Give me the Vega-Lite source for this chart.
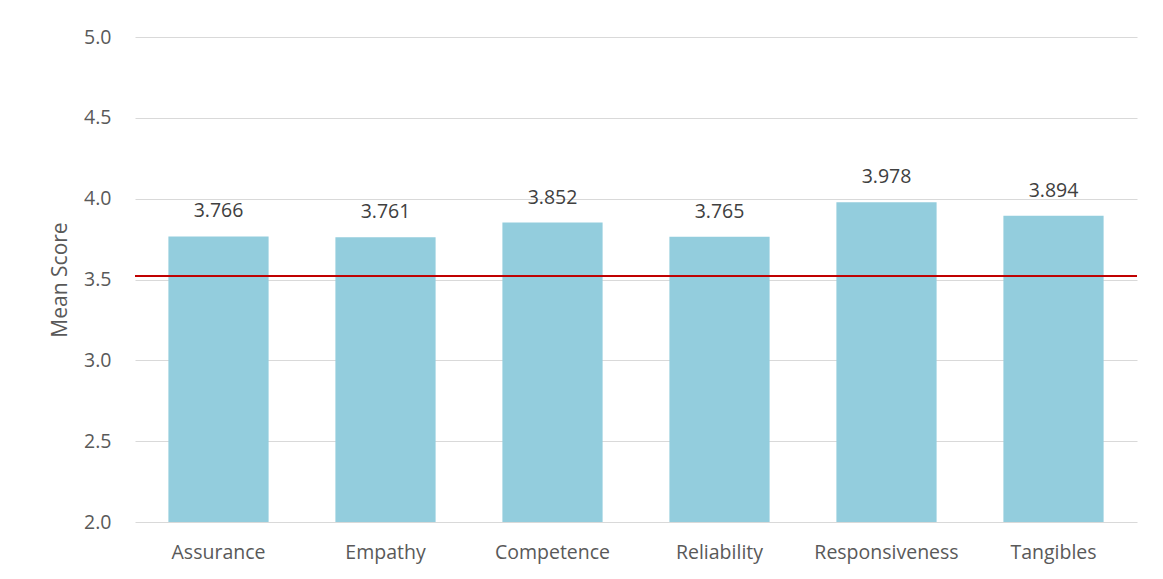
{
  "$schema": "https://vega.github.io/schema/vega-lite/v6.json",
  "width": 1002,
  "height": 485,
  "autosize": "none",
  "padding": {"left": 135, "top": 37, "right": 26, "bottom": 57},
  "background": "white",
  "config": {"view": {"stroke": null}, "font": "Open Sans"},
  "data": {
    "values": [
      {"dimension": "Assurance", "score": 3.766},
      {"dimension": "Empathy", "score": 3.761},
      {"dimension": "Competence", "score": 3.852},
      {"dimension": "Reliability", "score": 3.765},
      {"dimension": "Responsiveness", "score": 3.978},
      {"dimension": "Tangibles", "score": 3.894}
    ]
  },
  "layer": [
    {
      "mark": {"type": "bar", "color": "#93CDDD"},
      "encoding": {
        "x": {
          "field": "dimension", "type": "nominal", "sort": null,
          "scale": {"paddingInner": 0.4, "paddingOuter": 0.2},
          "axis": {"title": null, "labelAngle": 0, "labelFontSize": 19.5, "labelColor": "#595959", "labelPadding": 21, "ticks": false, "domain": false, "grid": false}
        },
        "y": {
          "field": "score", "type": "quantitative",
          "scale": {"domain": [2, 5], "nice": false, "zero": false},
          "axis": {"values": [2, 2.5, 3, 3.5, 4, 4.5, 5], "format": ".1f", "labelFontSize": 19.5, "labelColor": "#595959", "labelPadding": 24, "ticks": false, "domain": false, "grid": true, "gridColor": "#D9D9D9", "title": "Mean Score", "titleFontSize": 21, "titleColor": "#595959", "titleFontWeight": "normal", "titlePadding": 13}
        },
        "y2": {"datum": 2}
      }
    },
    {
      "mark": {"type": "text", "fontSize": 19.5, "color": "#404040", "baseline": "alphabetic", "dy": -19},
      "encoding": {
        "x": {"field": "dimension", "type": "nominal", "sort": null},
        "y": {"field": "score", "type": "quantitative"},
        "text": {"field": "score", "type": "quantitative", "format": ".3f"}
      }
    },
    {
      "mark": {"type": "rule", "color": "#C00000", "strokeWidth": 1.6},
      "encoding": {"y": {"datum": 3.52}}
    }
  ]
}
